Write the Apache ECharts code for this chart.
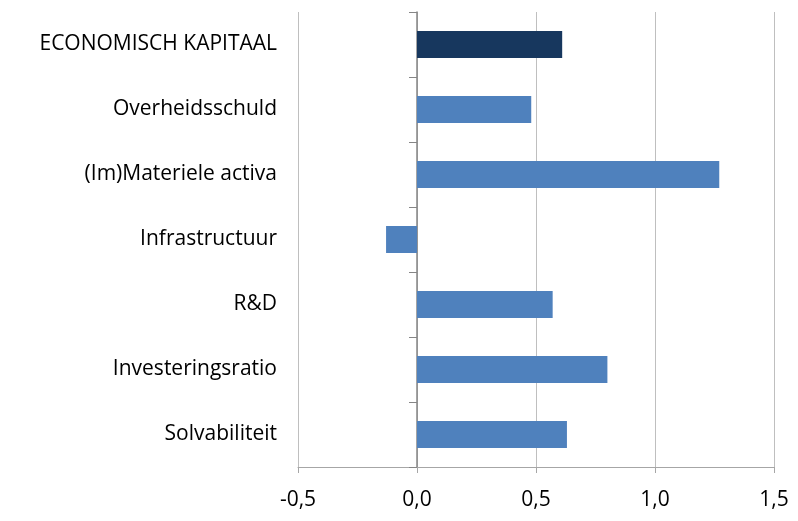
<!DOCTYPE html>
<html>
<head>
<meta charset="utf-8">
<script src="https://cdn.jsdelivr.net/npm/echarts@6/dist/echarts.min.js"></script>
<style>
  html, body { margin: 0; padding: 0; background: #fff; }
  #chart { width: 798px; height: 521px; }
</style>
</head>
<body>
<div id="chart"></div>
<script>
// categorieën van boven naar onder
const categories = ['ECONOMISCH KAPITAAL', 'Overheidsschuld', '(Im)Materiele activa', 'Infrastructuur', 'R&D', 'Investeringsratio', 'Solvabiliteit'];
const values = [0.61, 0.48, 1.27, -0.13, 0.57, 0.80, 0.63];
const xTicks = [-0.5, 0, 0.5, 1.0, 1.5];

const font = '"Open Sans", Lato, sans-serif';
const fmt = v => v.toFixed(1).replace('.', ',');

const chart = echarts.init(document.getElementById('chart'));
chart.setOption({
    animation: false,
    grid: { left: 298, right: 24, top: 12, bottom: 54 },
    xAxis: {
        type: 'value',
        min: xTicks[0],
        max: xTicks[xTicks.length - 1],
        interval: 0.5,
        axisLine: { show: true, onZero: false, lineStyle: { color: '#a6a6a6' } },
        axisTick: { show: true, length: 6, lineStyle: { color: '#a6a6a6' } },
        axisLabel: { color: '#000', fontSize: 21, fontFamily: font, margin: 23, formatter: fmt },
        splitLine: { show: true, lineStyle: { color: '#bfbfbf' } }
    },
    yAxis: [
        {
            // alleen de labels links
            type: 'category',
            data: categories,
            inverse: true,
            axisLine: { show: false, onZero: false },
            axisTick: { show: false },
            axisLabel: { color: '#000', fontSize: 21, fontFamily: font, margin: 21 }
        },
        {
            // as op nul met streepjes
            type: 'category',
            data: categories,
            inverse: true,
            position: 'left',
            axisLine: { show: true, onZero: true, lineStyle: { color: '#868686', width: 1.5 } },
            axisTick: { show: true, length: 8, lineStyle: { color: '#868686' } },
            axisLabel: { show: false }
        }
    ],
    series: [{
        type: 'bar',
        yAxisIndex: 0,
        barWidth: 27,
        data: values.map((v, i) => ({
            value: v,
            itemStyle: { color: i === 0 ? '#17375e' : '#4f81bd' }
        }))
    }]
});
</script>
</body>
</html>
